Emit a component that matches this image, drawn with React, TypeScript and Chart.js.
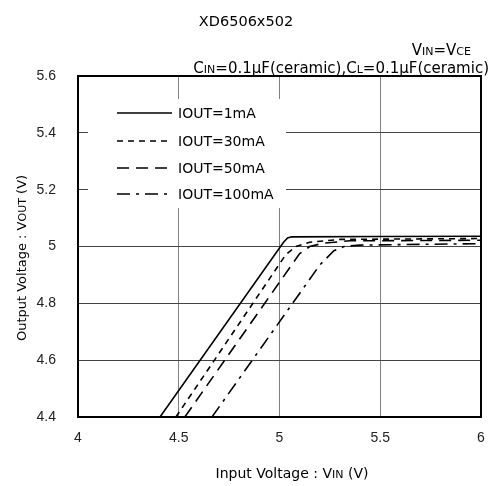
import { useEffect, useRef } from "react";
import { Chart, registerables } from "chart.js";

Chart.register(...registerables);

const FONT = "'Liberation Sans', Arial, sans-serif";
const TFONT = "'DejaVu Sans', sans-serif";

const seriesLabels = ["IOUT=1mA", "IOUT=30mA", "IOUT=50mA", "IOUT=100mA"];
const seriesDash: number[][] = [[], [6, 5], [12, 7], [13, 6, 3, 6]];

const vin1mA = [4.407, 5.02, 5.04, 5.06, 5.5, 6.0];
const vout1mA = [4.4, 5.015, 5.03, 5.034, 5.035, 5.036];

const vin30mA = [4.486, 5.03, 5.08, 5.15, 5.3, 6.0];
const vout30mA = [4.4, 4.97, 5.0, 5.015, 5.025, 5.028];

const vin50mA = [4.53, 5.1, 5.15, 5.22, 5.35, 6.0];
const vout50mA = [4.4, 4.975, 5.0, 5.012, 5.02, 5.022];

const vin100mA = [4.665, 5.2, 5.27, 5.32, 5.4, 6.0];
const vout100mA = [4.4, 4.935, 4.985, 5.0, 5.005, 5.01];

const xTickValues = [4, 4.5, 5, 5.5, 6];
const xTickLabels = ["4", "4.5", "5", "5.5", "6"];
const yTickValues = [4.4, 4.6, 4.8, 5.0, 5.2, 5.4, 5.6];
const yTickLabels = ["4.4", "4.6", "4.8", "5", "5.2", "5.4", "5.6"];

const vins = [vin1mA, vin30mA, vin50mA, vin100mA];
const vouts = [vout1mA, vout30mA, vout50mA, vout100mA];

type Seg = [string, number];

function drawRich(ctx: CanvasRenderingContext2D, segs: Seg[], x: number, y: number, align: "left" | "center" | "right") {
  let total = 0;
  const widths: number[] = [];
  for (const [t, s] of segs) {
    ctx.font = `${s}px ${TFONT}`;
    const w = ctx.measureText(t).width;
    widths.push(w);
    total += w;
  }
  let cur = align === "center" ? x - total / 2 : align === "right" ? x - total : x;
  ctx.textBaseline = "alphabetic";
  ctx.textAlign = "left";
  segs.forEach(([t, s], i) => {
    ctx.font = `${s}px ${TFONT}`;
    ctx.fillText(t, cur, y);
    cur += widths[i];
  });
}

function labelFor(values: number[], labels: string[], v: number) {
  const i = values.findIndex((q) => Math.abs(q - v) < 1e-6);
  return i >= 0 ? labels[i] : "";
}

const decorPlugin = {
  id: "decor",
  afterDatasetsDraw(chart: any) {
    const ctx: CanvasRenderingContext2D = chart.ctx;
    const a = chart.chartArea;
    ctx.save();
    // legend
    ctx.fillStyle = "#fff";
    ctx.fillRect(a.left + 10, 99, 198, 109);
    const rows = [113, 141, 168, 194];
    rows.forEach((ry, i) => {
      ctx.strokeStyle = "#000";
      ctx.lineWidth = 1.6;
      ctx.setLineDash(seriesDash[i]);
      ctx.beginPath();
      ctx.moveTo(117, ry);
      ctx.lineTo(172, ry);
      ctx.stroke();
      ctx.setLineDash([]);
      ctx.fillStyle = "#000";
      drawRich(ctx, [[seriesLabels[i], 14]], 178, ry + 5, "left");
    });
    // border
    ctx.strokeStyle = "#000";
    ctx.lineWidth = 2;
    ctx.strokeRect(a.left, a.top, a.right - a.left, a.bottom - a.top);
    // titles
    ctx.fillStyle = "#000";
    drawRich(ctx, [["XD6506x502", 14.5]], 246, 26, "center");
    drawRich(ctx, [["V", 15], ["IN", 11], ["=V", 15], ["CE", 11]], 471, 55, "right");
    drawRich(
      ctx,
      [["C", 15], ["IN", 11], ["=0.1μF(ceramic),C", 15], ["L", 11], ["=0.1μF(ceramic)", 15]],
      489,
      73,
      "right"
    );
    drawRich(ctx, [["Input Voltage : V", 14], ["IN", 11], [" (V)", 14]], 292, 478, "center");
    ctx.save();
    ctx.translate(26, 258);
    ctx.rotate(-Math.PI / 2);
    drawRich(ctx, [["Output Voltage : V", 13], ["OUT", 11], [" (V)", 13]], 0, 0, "center");
    ctx.restore();
    ctx.restore();
  },
};

export default function App() {
  const ref = useRef<HTMLCanvasElement>(null);
  useEffect(() => {
    document.body.style.margin = "0";
    const canvas = ref.current!;
    const chart = new Chart(canvas, {
      type: "line",
      data: {
        datasets: seriesLabels.map((label, i) => ({
          label,
          data: vins[i].map((x, j) => ({ x, y: vouts[i][j] })),
          borderColor: "#000",
          borderWidth: 1.6,
          borderDash: seriesDash[i],
          pointRadius: 0,
          fill: false,
          tension: 0,
        })),
      },
      options: {
        responsive: false,
        animation: false,
        layout: { padding: { top: 76, right: 10, left: 0, bottom: 0 } },
        plugins: {
          legend: { display: false },
          title: { display: false },
          tooltip: { enabled: false },
        },
        scales: {
          x: {
            type: "linear",
            min: 4,
            max: 6,
            afterBuildTicks: (s: any) => {
              s.ticks = xTickValues.map((value) => ({ value }));
            },
            afterFit: (s: any) => {
              s.height = 69;
            },
            ticks: {
              padding: 0,
              color: "#222",
              font: { family: FONT, size: 14 },
              callback: (v: any) => labelFor(xTickValues, xTickLabels, Number(v)),
            },
            grid: { color: "#808080", lineWidth: 1, drawTicks: true, tickLength: 13, tickColor: "rgba(0,0,0,0)" },
            border: { display: false },
          },
          y: {
            type: "linear",
            min: 4.4,
            max: 5.6,
            afterBuildTicks: (s: any) => {
              s.ticks = yTickValues.map((value) => ({ value }));
            },
            afterFit: (s: any) => {
              s.width = 78;
            },
            ticks: {
              padding: 0,
              color: "#222",
              font: { family: FONT, size: 14 },
              callback: (v: any) => labelFor(yTickValues, yTickLabels, Number(v)),
            },
            grid: { color: "#444", lineWidth: 1, drawTicks: true, tickLength: 22, tickColor: "rgba(0,0,0,0)" },
            border: { display: false },
          },
        },
      },
      plugins: [decorPlugin],
    });
    return () => chart.destroy();
  }, []);
  return (
    <div style={{ width: 491, height: 486 }}>
      <canvas ref={ref} width={491} height={486} style={{ display: "block", width: 491, height: 486 }} />
    </div>
  );
}
